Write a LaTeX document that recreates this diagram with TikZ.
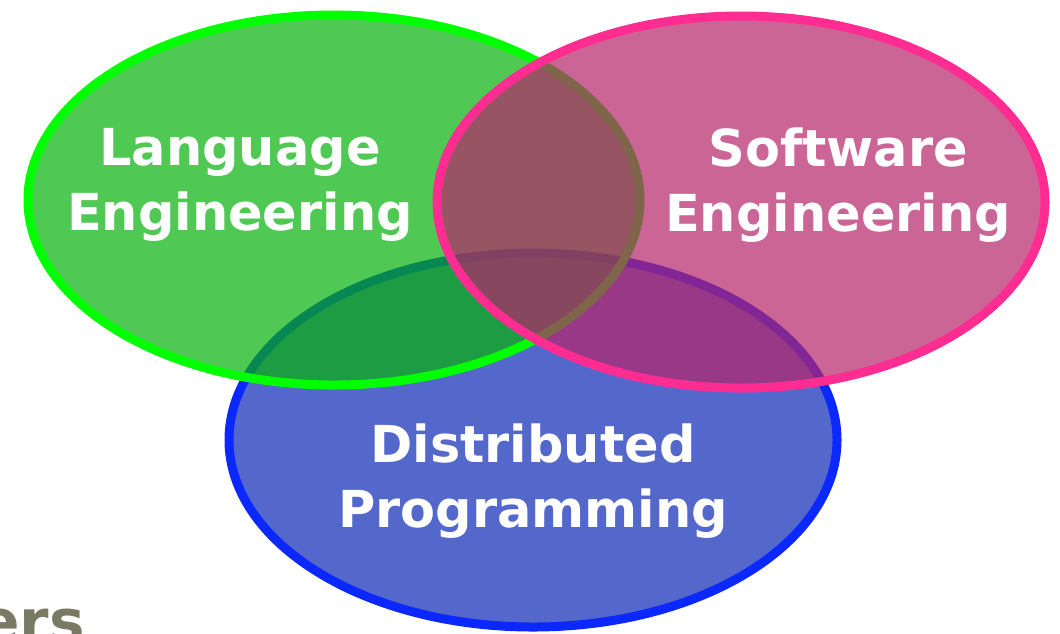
\documentclass[tikz,border=0pt]{standalone}
\usepackage{fontspec}
\setmainfont{DejaVu Sans}
\definecolor{greenline}{RGB}{0,255,0}
\definecolor{greenfill}{RGB}{6,178,11}
\definecolor{pinkline}{RGB}{255,45,145}
\definecolor{pinkfill}{RGB}{181,36,105}
\definecolor{blueline}{RGB}{10,40,255}
\definecolor{bluefill}{RGB}{11,39,181}
\definecolor{ersgray}{RGB}{120,122,100}
\tikzset{
  set/.style={line width=0.18cm, fill opacity=.7},
  lbl/.style={text=white, align=center, font=\bfseries\fontsize{29}{37}\selectfont}
}
\begin{document}
\begin{tikzpicture}[x=0.02cm,y=-0.02cm]
    \useasboundingbox (0,0) rectangle (1060,633);
    \clip (0,0) rectangle (1060,633);
    % the three sets, bottom one first
    \draw[set, draw=blueline, fill=bluefill] (533,440) ellipse [x radius=304, y radius=187];
    \draw[set, draw=greenline, fill=greenfill] (334,200) ellipse [x radius=306, y radius=185];
    \draw[set, draw=pinkline, fill=pinkfill] (741,202) ellipse [x radius=304, y radius=186];
    \node (le) at (240,185) [lbl] {Language\\Engineering};
    \node (se) at (838,185) [lbl] {Software\\Engineering};
    \node (dp) at (533,481) [lbl] {Distributed\\Programming};
    \node (ers) at (85,642) [anchor=base east, inner xsep=0pt, text=ersgray,
      font=\bfseries\fontsize{34}{34}\selectfont] {ers};
\end{tikzpicture}
\end{document}
